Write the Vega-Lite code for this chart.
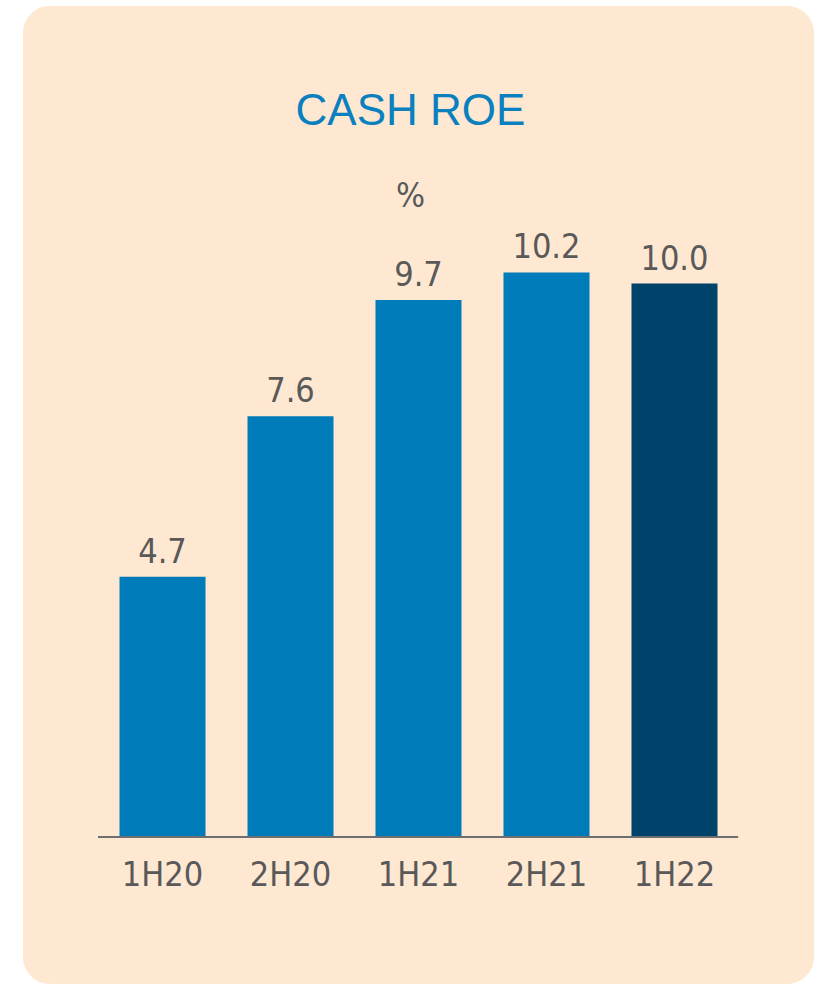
{
  "$schema": "https://vega.github.io/schema/vega-lite/v6.json",
  "width": 791,
  "height": 978,
  "autosize": {"type": "none"},
  "padding": {"left": 23, "top": 6, "right": 9, "bottom": 0},
  "background": "#ffffff",
  "config": {"view": {"fill": "#FEE8D2", "stroke": null, "cornerRadius": 27}},
  "title": {
    "text": "CASH ROE",
    "subtitle": "%",
    "anchor": "middle",
    "dx": -8,
    "offset": -208,
    "font": "Liberation Sans",
    "fontSize": 44,
    "fontWeight": "normal",
    "color": "#0A80BF",
    "subtitleFont": "Liberation Sans Narrow, DejaVu Sans Condensed, sans-serif",
    "subtitleFontSize": 34,
    "subtitleColor": "#595959",
    "subtitlePadding": 46
  },
  "data": {
    "values": [
      {"period": "1H20", "value": 4.7, "type": "past"},
      {"period": "2H20", "value": 7.6, "type": "past"},
      {"period": "1H21", "value": 9.7, "type": "past"},
      {"period": "2H21", "value": 10.2, "type": "past"},
      {"period": "1H22", "value": 10.0, "type": "current"}
    ]
  },
  "encoding": {
    "x": {
      "field": "period",
      "type": "nominal",
      "sort": null,
      "scale": {"type": "band", "paddingInner": 0.328, "paddingOuter": 0.754},
      "axis": null
    }
  },
  "layer": [
    {
      "mark": {"type": "bar"},
      "encoding": {
        "y": {"field": "value", "type": "quantitative", "scale": {"domain": [-2.656, 15.014], "nice": false, "zero": false}, "axis": null},
        "y2": {"datum": 0},
        "color": {"field": "type", "type": "nominal", "scale": {"domain": ["past", "current"], "range": ["#007CBA", "#00436A"]}, "legend": null}
      }
    },
    {
      "mark": {"type": "rule", "color": "#6E6E6E", "strokeWidth": 2},
      "encoding": {
        "x": {"field": "period", "type": "nominal", "sort": null, "bandPosition": -0.25},
        "x2": {"field": "period", "bandPosition": 1.24},
        "y": {"datum": 0, "type": "quantitative"}
      }
    },
    {
      "mark": {"type": "text", "baseline": "alphabetic", "dy": -14, "font": "Liberation Sans Narrow, DejaVu Sans Condensed, sans-serif", "fontSize": 34, "color": "#595959"},
      "encoding": {
        "y": {"field": "value", "type": "quantitative"},
        "text": {"field": "value", "type": "quantitative", "format": ".1f"}
      }
    },
    {
      "mark": {"type": "text", "baseline": "alphabetic", "dy": 49, "font": "Liberation Sans Narrow, DejaVu Sans Condensed, sans-serif", "fontSize": 34, "color": "#595959"},
      "encoding": {
        "y": {"datum": 0, "type": "quantitative"},
        "text": {"field": "period", "type": "nominal"}
      }
    }
  ]
}
